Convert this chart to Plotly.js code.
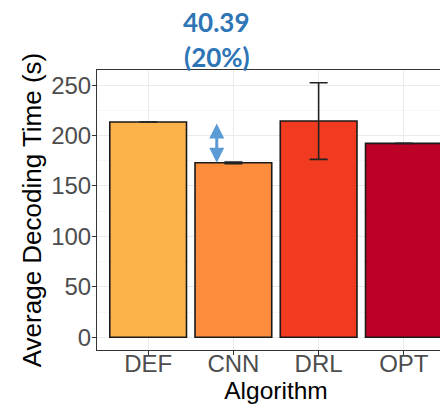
<!DOCTYPE html>
<html>
<head>
<meta charset="utf-8">
<script src="https://cdn.plot.ly/plotly-3.0.1.min.js"></script>
<style>
  html, body { margin: 0; padding: 0; overflow: hidden; background: #fff; }
  #chart { width: 470px; height: 406px; }
</style>
</head>
<body>
<div id="chart"></div>
<script>
// Average decoding time per algorithm (seconds)
const algorithms = ['DEF', 'CNN', 'DRL', 'OPT'];
const avgTime = [213.39, 173.00, 214.4, 192.3];
const timeErr = [null, 0.8, 38, null];
const barColors = ['#FEB24C', '#FD8D3C', '#F03B20', '#BD0026'];
const yTicks = [0, 50, 100, 150, 200, 250];
const savingPct = '(20%)';

const saving = (avgTime[0] - avgTime[1]).toFixed(2);

const bars = {
  type: 'bar',
  x: algorithms,
  y: avgTime,
  width: 0.9,
  marker: { color: barColors, line: { color: '#1a1a1a', width: 1.6 } },
  error_y: { type: 'data', array: timeErr, visible: true, color: '#222', thickness: 1.6, width: 9 },
  hoverinfo: 'skip'
};

const font = 'Liberation Sans, Arial, sans-serif';
const blueFont = 'Lato, Open Sans, sans-serif';

const layout = {
  width: 470, height: 406,
  margin: { l: 97, r: 15, t: 70, b: 56 },
  paper_bgcolor: '#fff', plot_bgcolor: '#fff',
  showlegend: false,
  font: { family: font },
  xaxis: {
    type: 'category',
    range: [-0.6, 3.6],
    showgrid: true, gridcolor: '#EBEBEB', gridwidth: 1,
    showline: true, mirror: true, linecolor: '#333', linewidth: 1,
    ticks: 'outside', ticklen: 4, tickcolor: '#333',
    ticklabelstandoff: -12,
    tickfont: { size: 24, color: '#4D4D4D', family: font },
    title: { text: 'Algorithm', font: { size: 24.5, color: '#000', family: font }, standoff: 0 },
    automargin: false, fixedrange: true
  },
  yaxis: {
    range: [-12.6, 265],
    tickvals: yTicks,
    showgrid: true, gridcolor: '#EBEBEB', gridwidth: 1,
    minor: { dtick: 25, showgrid: true, gridcolor: '#F2F2F2', gridwidth: 0.6, ticks: '' },
    zeroline: false,
    showline: true, mirror: true, linecolor: '#333', linewidth: 1,
    ticks: 'outside', ticklen: 4, tickcolor: '#333',
    ticklabelstandoff: -4,
    tickfont: { size: 24, color: '#4D4D4D', family: font },
    title: { text: 'Average Decoding Time (s)', font: { size: 26, color: '#000', family: font }, standoff: 2 },
    automargin: false, fixedrange: true
  },
  annotations: [
    {
      // double-headed arrow marking the DEF → CNN gap
      x: 0.805, y: avgTime[1], ax: 0.805, ay: avgTime[0],
      xref: 'x', yref: 'y', axref: 'x', ayref: 'y',
      text: '', showarrow: true,
      arrowhead: 2, startarrowhead: 2, arrowside: 'end+start',
      arrowsize: 1.0, startarrowsize: 1.0, arrowwidth: 3,
      arrowcolor: '#5B9BD5'
    },
    {
      x: 0.805, xref: 'x', y: 1.17, yref: 'paper', yanchor: 'middle',
      text: '<b>' + saving + '</b>', showarrow: false,
      font: { family: blueFont, size: 26, color: '#2E75B6' }
    },
    {
      x: 0.805, xref: 'x', y: 1.045, yref: 'paper', yanchor: 'middle',
      text: '<b>' + savingPct + '</b>', showarrow: false,
      font: { family: blueFont, size: 26, color: '#2E75B6' }
    }
  ]
};

Plotly.newPlot('chart', [bars], layout, { displayModeBar: false, staticPlot: true });
</script>
</body>
</html>
